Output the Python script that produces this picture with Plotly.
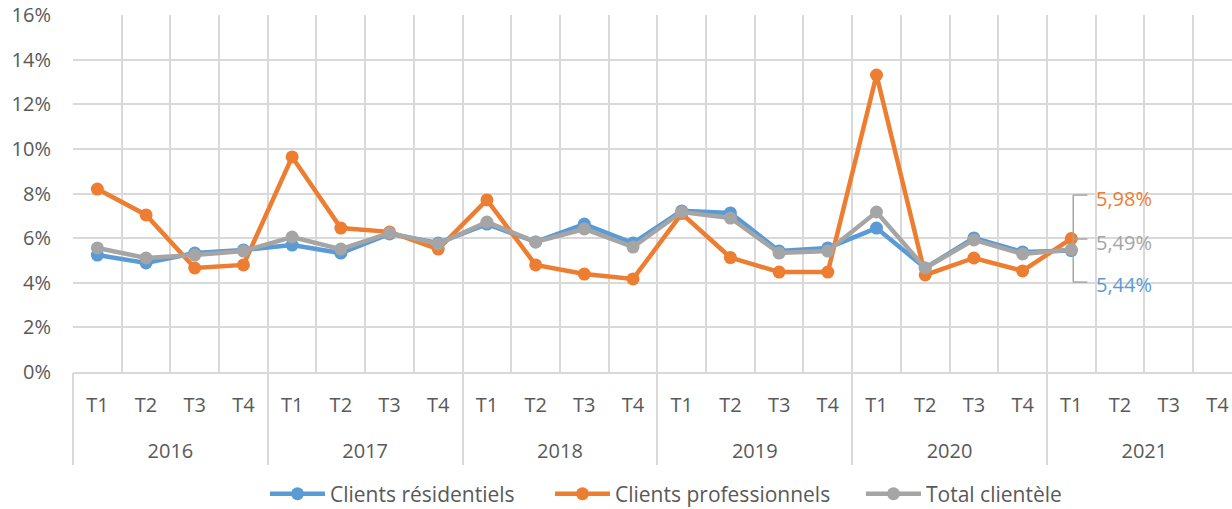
import plotly.graph_objects as go

years = ["2016", "2017", "2018", "2019", "2020", "2021"]
quarter_names = ["T1", "T2", "T3", "T4"]
quarters = quarter_names * len(years)

residentiels = [5.24, 4.89, 5.33, 5.47,
                5.69, 5.33, 6.19, 5.78,
                6.63, 5.83, 6.63, 5.78,
                7.22, 7.13, 5.42, 5.56,
                6.45, 4.66, 6.01, 5.38,
                5.44, None, None, None]
professionnels = [8.20, 7.04, 4.66, 4.80,
                  9.64, 6.45, 6.28, 5.51,
                  7.71, 4.80, 4.39, 4.17,
                  7.10, 5.13, 4.48, 4.48,
                  13.31, 4.35, 5.11, 4.53,
                  5.98, None, None, None]
total = [5.56, 5.11, 5.24, 5.42,
         6.05, 5.51, 6.23, 5.74,
         6.72, 5.83, 6.41, 5.60,
         7.17, 6.90, 5.33, 5.42,
         7.17, 4.66, 5.92, 5.29,
         5.49, None, None, None]

series = [
    ("Clients résidentiels", residentiels, "#5B9BD5"),
    ("Clients professionnels", professionnels, "#ED7D31"),
    ("Total clientèle", total, "#A5A5A5"),
]

FONT = "Open Sans"
TXT = "#595959"
GRID = "#D9D9D9"

n = len(quarters)
idx = list(range(n))
nq = len(quarter_names)
boundaries = [i - 0.5 for i in range(n + 1)]
year_centers = [k * nq + (nq - 1) / 2 for k in range(len(years))]
year_bounds = [k * nq - 0.5 for k in range(len(years))]
xrange_ = [-0.5, n - 0.7]

legend_ids = ["legend", "legend2", "legend3"]
legend_x = [265, 550, 861]  # left edge of each legend entry, px

fig = go.Figure()
for (name, vals, col), lid in zip(series, legend_ids):
    fig.add_trace(go.Scatter(
        x=idx, y=vals, name=name, mode="lines+markers",
        line=dict(color=col, width=4.5), marker=dict(color=col, size=13),
        connectgaps=False, xaxis="x", yaxis="y", legend=lid,
    ))
# empty helper trace so the year axis (x2) is drawn
fig.add_trace(go.Scatter(x=[], y=[], xaxis="x2", yaxis="y", showlegend=False,
                         hoverinfo="skip", mode="markers"))

# last-point data labels (Excel style with leader bracket)
last = 20
label_shift = {"Clients professionnels": 40, "Total clientèle": 7, "Clients résidentiels": -34}
for name, vals, col in series:
    v = vals[last]
    fig.add_annotation(
        x=last, y=v, xref="x", yref="y", text=f"{v:.2f}%".replace(".", ","),
        showarrow=False, xanchor="left", yanchor="middle", xshift=23,
        yshift=label_shift[name], font=dict(family=FONT, size=20, color=col),
    )

# leader bracket
bx0, bx1 = last + 0.04, last + 0.33
for y in (7.93, 5.96, 4.03):
    fig.add_shape(type="line", xref="x", yref="y", x0=bx0, x1=bx1, y0=y, y1=y,
                  line=dict(color="#A5A5A5", width=1.5))
fig.add_shape(type="line", xref="x", yref="y", x0=bx0, x1=bx0, y0=4.03, y1=7.93,
              line=dict(color="#A5A5A5", width=1.5))

W, H = 1232, 509
legend_common = dict(orientation="h", xref="container", xanchor="left",
                     y=-0.342, yanchor="middle",
                     font=dict(family=FONT, size=21, color=TXT), itemwidth=55,
                     bgcolor="rgba(0,0,0,0)")
legends = {lid: dict(legend_common, x=lx / W) for lid, lx in zip(legend_ids, legend_x)}

fig.update_layout(
    width=W, height=H,
    margin=dict(l=73, r=0, t=15, b=137, autoexpand=False),
    paper_bgcolor="white", plot_bgcolor="white",
    font=dict(family=FONT, size=20, color=TXT),
    showlegend=True,
    **legends,
    xaxis=dict(
        type="linear", range=xrange_, automargin=False,
        tickmode="array", tickvals=idx, ticktext=quarters,
        showgrid=False, zeroline=False,
        showline=True, linecolor=GRID, linewidth=1.5,
        ticks="outside", ticklen=14, tickcolor="rgba(0,0,0,0)",
        tickfont=dict(family=FONT, size=20, color=TXT),
        minor=dict(tickmode="array", tickvals=boundaries, showgrid=True,
                   gridcolor=GRID, gridwidth=1.5, ticks=""),
    ),
    xaxis2=dict(
        type="linear", range=xrange_, overlaying="x", anchor="y", side="bottom",
        automargin=False, tickmode="array", tickvals=year_centers, ticktext=years,
        showgrid=False, zeroline=False, showline=False,
        ticks="outside", ticklen=61, tickcolor="rgba(0,0,0,0)",
        tickfont=dict(family=FONT, size=20, color=TXT),
        minor=dict(tickmode="array", tickvals=year_bounds, ticks="outside",
                   ticklen=92, tickcolor=GRID, tickwidth=1.5, showgrid=False),
    ),
    yaxis=dict(
        range=[0, 16], dtick=2, ticksuffix="%", showgrid=True, gridcolor=GRID, gridwidth=1.5,
        zeroline=False, showline=False, automargin=False,
        ticks="outside", ticklen=17, tickcolor="rgba(0,0,0,0)",
        tickfont=dict(family=FONT, size=20, color=TXT),
    ),
)

# remove the browser's default 8px body margin so the figure fills the window exactly
fig.write_html(
    "out.html",
    config={"displayModeBar": False},
    post_script="document.body.style.margin='0';document.body.style.overflow='hidden';",
)
